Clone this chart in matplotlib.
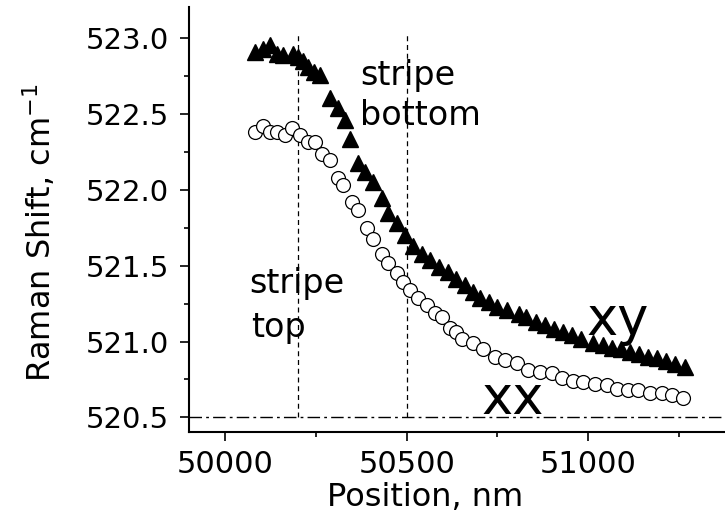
import matplotlib
matplotlib.use("Agg")
import matplotlib.pyplot as plt
from matplotlib.ticker import MultipleLocator, FormatStrFormatter

plt.rcParams['font.family'] = ['DejaVu Sans']

# xy polarisation (filled triangles)
xy_pos = [50083, 50105, 50124, 50143, 50160, 50187, 50200, 50215, 50229, 50245,
          50262, 50289, 50311, 50331, 50344, 50366, 50386, 50408, 50433, 50449,
          50474, 50496, 50518, 50543, 50565, 50590, 50614, 50637, 50660, 50682,
          50702, 50727, 50750, 50775, 50808, 50830, 50855, 50880, 50905, 50930,
          50955, 50980, 51014, 51040, 51065, 51090, 51115, 51140, 51165, 51190,
          51215, 51240, 51267]
xy_shift = [522.91, 522.93, 522.96, 522.90, 522.89, 522.90, 522.88, 522.85, 522.81, 522.78,
            522.76, 522.61, 522.54, 522.46, 522.34, 522.18, 522.12, 522.05, 521.95, 521.85,
            521.78, 521.70, 521.63, 521.58, 521.54, 521.49, 521.46, 521.41, 521.37, 521.33,
            521.29, 521.26, 521.23, 521.21, 521.18, 521.16, 521.13, 521.11, 521.08, 521.06,
            521.04, 521.02, 520.99, 520.98, 520.96, 520.95, 520.93, 520.92, 520.90, 520.89,
            520.87, 520.85, 520.83]

# xx polarisation (open circles)
xx_pos = [50083, 50105, 50124, 50143, 50165, 50185, 50207, 50229, 50248, 50267,
          50289, 50311, 50325, 50350, 50366, 50391, 50408, 50433, 50449, 50474,
          50490, 50510, 50532, 50556, 50579, 50597, 50620, 50636, 50653, 50683,
          50711, 50744, 50771, 50804, 50835, 50868, 50900, 50928, 50959, 50986,
          51019, 51052, 51080, 51110, 51138, 51171, 51204, 51231, 51262]
xx_shift = [522.38, 522.42, 522.38, 522.38, 522.36, 522.41, 522.36, 522.32, 522.32, 522.24,
            522.20, 522.08, 522.03, 521.92, 521.87, 521.75, 521.68, 521.58, 521.52, 521.45,
            521.39, 521.34, 521.29, 521.24, 521.19, 521.16, 521.09, 521.06, 521.02, 520.99,
            520.95, 520.90, 520.88, 520.86, 520.81, 520.80, 520.79, 520.76, 520.74, 520.73,
            520.72, 520.71, 520.69, 520.68, 520.68, 520.66, 520.66, 520.65, 520.63]

stripe_edges = [50200, 50500]
baseline = 520.5

fig = plt.figure(figsize=(7.25, 5.13), dpi=100)
ax = fig.add_axes([0.2607, 0.1585, 0.7393, 0.827])

ax.axhline(baseline, color='black', lw=1.0, ls=(0, (9, 3, 2, 3)))
ax.vlines(stripe_edges, baseline, 523.02, colors='black', lw=0.9, linestyles=(0, (4, 3)))

ax.plot(xy_pos, xy_shift, ls='none', marker='^', ms=12, color='black', mec='black')
ax.plot(xx_pos, xx_shift, ls='none', marker='o', ms=10, mfc='white', mec='black', mew=0.9)

# annotations
ax.text(50372, 522.69, 'stripe', fontsize=24, ha='left', va='baseline')
ax.text(50372, 522.43, 'bottom', fontsize=24, ha='left', va='baseline')
ax.text(50065, 521.32, 'stripe', fontsize=24, ha='left', va='baseline')
ax.text(50070, 521.03, 'top', fontsize=24, ha='left', va='baseline')
ax.text(50995, 521.04, 'xy', fontsize=38, ha='left', va='baseline')
ax.text(50705, 520.52, 'xx', fontsize=38, ha='left', va='baseline')

ax.set_xlim(49900, 51377)
ax.set_ylim(520.405, 523.205)

ax.xaxis.set_major_locator(MultipleLocator(500))
ax.xaxis.set_minor_locator(MultipleLocator(250))
ax.yaxis.set_major_locator(MultipleLocator(0.5))
ax.yaxis.set_minor_locator(MultipleLocator(0.25))
ax.yaxis.set_major_formatter(FormatStrFormatter('%.1f'))

ax.spines['top'].set_visible(False)
ax.spines['right'].set_visible(False)
ax.spines['left'].set_linewidth(1.5)
ax.spines['bottom'].set_linewidth(1.5)

ax.tick_params(which='major', direction='out', length=6.5, width=1.2)
ax.tick_params(which='minor', direction='out', length=3.6, width=1.2)
ax.tick_params(axis='x', labelsize=22, pad=7)
ax.tick_params(axis='y', labelsize=21, pad=8)

ax.set_xlabel('Position, nm', fontsize=23)
ax.xaxis.set_label_coords(0.44, -0.118)
ax.set_ylabel(r'Raman Shift, cm$^{-1}$', fontsize=23)
ax.yaxis.set_label_coords(-0.245, 0.47)

fig.savefig('out.png', dpi=100)
